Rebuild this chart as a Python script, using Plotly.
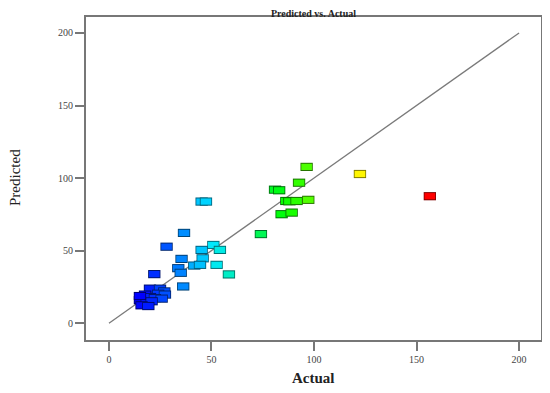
import plotly.graph_objects as go

actual = [156.5, 122.4, 96.4, 92.7, 81.0, 83.0, 86.5, 88.0, 91.5, 97.2, 84.2, 89.1, 74.1,
          45.2, 47.3, 36.6, 28.1, 50.9, 45.2, 54.1, 35.4, 45.7, 33.8, 35.0, 41.6, 44.4,
          52.5, 58.5, 22.1, 36.2, 20.0, 24.9, 27.0, 24.0, 27.3, 17.6, 20.0, 22.4, 25.7,
          15.1, 18.4, 20.8, 15.9, 19.2, 15.1]
predicted = [87.5, 102.8, 107.7, 96.8, 92.0, 91.6, 84.2, 84.0, 84.2, 85.0, 75.1, 76.2, 61.4,
             83.8, 83.8, 62.2, 52.7, 53.9, 50.5, 50.5, 44.3, 44.7, 37.9, 34.7, 39.7, 40.2,
             40.2, 33.6, 33.8, 25.3, 23.8, 23.8, 21.9, 20.3, 19.7, 19.7, 18.0, 17.3, 16.9,
             15.8, 14.6, 15.1, 12.3, 11.8, 18.7]
ref_line = [0, 200]
x_ticks = [0, 50, 100, 150, 200]
y_ticks = [0, 50, 100, 150, 200]

fill_scale = [[0, '#0000ff'], [0.25, '#00e8ff'], [0.5, '#00ff00'], [0.75, '#ffff00'], [1, '#ff0000']]
edge_scale = [[0, '#00006a'], [0.25, '#007080'], [0.5, '#007000'], [0.75, '#808000'], [1, '#800000']]
cmin, cmax = min(actual), max(actual)

# page body has an 8px margin: figure drawn at (8, 8)
W, H = 542, 385
L, R, T, B = 78, 9, 7, 53
PW, PH = W - L - R, H - T - B

fig = go.Figure()
fig.add_trace(go.Scatter(x=ref_line, y=ref_line, mode='lines',
                         line=dict(color='#7a7a7a', width=1.3), hoverinfo='skip'))
# each point drawn as an outlined rectangle (dark edge + bright fill), in data order
for a, p in zip(actual, predicted):
    fig.add_trace(go.Scatter(x=[a], y=[p], mode='markers', hoverinfo='skip',
                             marker=dict(symbol='line-ew', size=8.8,
                                         line=dict(width=8.2, color=[a], colorscale=edge_scale,
                                                   cmin=cmin, cmax=cmax))))
    fig.add_trace(go.Scatter(x=[a], y=[p], mode='markers',
                             marker=dict(symbol='line-ew', size=7.6,
                                         line=dict(width=6.2, color=[a], colorscale=fill_scale,
                                                   cmin=cmin, cmax=cmax))))

axis_common = dict(showgrid=False, zeroline=False, showline=True, linecolor='#777777',
                   linewidth=2, mirror=True, ticks='outside', ticklen=9, tickwidth=1.5,
                   tickcolor='#777777',
                   tickfont=dict(family='Liberation Serif', size=10, color='#444444'))

fig.update_layout(
    width=W, height=H,
    margin=dict(l=L, r=R, t=T, b=B),
    paper_bgcolor='white', plot_bgcolor='white',
    showlegend=False,
    title=dict(text='<b>Predicted vs. Actual</b>', x=(L + PW / 2) / W, xanchor='center',
               y=1 - 5 / H, yanchor='middle',
               font=dict(family='Liberation Serif', size=10, color='#222222')),
    xaxis=dict(range=[-11.2, 210.7], tickvals=x_ticks, **axis_common),
    yaxis=dict(range=[-11.6, 211], tickvals=y_ticks, **axis_common),
    annotations=[
        dict(text='<b>Actual</b>', xref='paper', yref='paper', x=0.5, y=-38 / PH,
             xanchor='center', yanchor='middle', showarrow=False,
             font=dict(family='Liberation Serif', size=15, color='#222222')),
        dict(text='Predicted', xref='paper', yref='paper', x=(15 - 86) / PW, y=(340 - 177) / PH,
             xanchor='center', yanchor='middle', textangle=-90, showarrow=False,
             font=dict(family='Liberation Serif', size=15, color='#222222')),
    ],
)

fig.write_html('out.html')
